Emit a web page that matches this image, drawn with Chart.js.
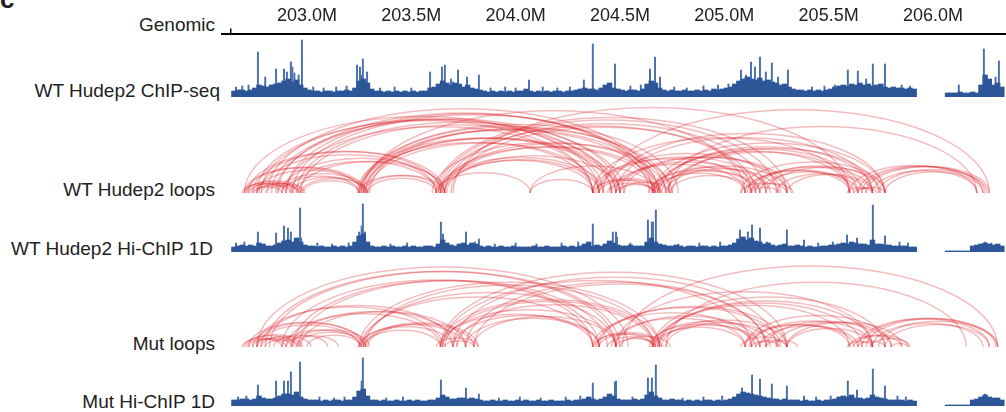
<!DOCTYPE html>
<html>
<head>
<meta charset="utf-8">
<script src="https://cdn.jsdelivr.net/npm/chart.js@4.4.1/dist/chart.umd.min.js"></script>
<style>
  body { margin: 0; background: #fff; }
  #wrap { position: relative; width: 1006px; height: 412px; overflow: hidden; font-family: "Liberation Sans", Arial, sans-serif; color: #222; }
  .lbl { position: absolute; font-size: 19px; line-height: 19px; white-space: nowrap; text-align: right; }
  .trk { position: absolute; }
  #panel { position: absolute; left: 0; top: -14px; font-size: 26px; line-height: 26px; font-weight: bold; }
</style>
</head>
<body>
<div id="wrap">
  <div id="panel">c</div>
  <div class="lbl" style="right:791px; top:15px;">Genomic</div>
  <div class="lbl" style="right:786px; top:81px;">WT Hudep2 ChIP-seq</div>
  <div class="lbl" style="right:791px; top:180px;">WT Hudep2 loops</div>
  <div class="lbl" style="right:793px; top:239px;">WT Hudep2 Hi-ChIP 1D</div>
  <div class="lbl" style="right:791px; top:334px;">Mut loops</div>
  <div class="lbl" style="right:791px; top:392px;">Mut Hi-ChIP 1D</div>

  <canvas class="trk" id="axis" width="785" height="70" style="left:221px; top:0px;"></canvas>
  <canvas class="trk" id="chip" width="775" height="59" style="left:231px; top:38px;"></canvas>
  <canvas class="trk" id="wtLoops" width="775" height="90" style="left:231px; top:103px;"></canvas>
  <canvas class="trk" id="wtHichip" width="775" height="51" style="left:231px; top:201px;"></canvas>
  <canvas class="trk" id="mutLoops" width="775" height="90" style="left:231px; top:257px;"></canvas>
  <canvas class="trk" id="mutHichip" width="775" height="50" style="left:231px; top:356px;"></canvas>
</div>
<script>
// genomic window (Mb)
const XMIN = 202.636;
const XMAX = 206.35;
const tickValues = [203.0, 203.5, 204.0, 204.5, 205.0, 205.5, 206.0];
const tickLabels = ['203.0M', '203.5M', '204.0M', '204.5M', '205.0M', '205.5M', '206.0M'];

// signal background, 20 kb bins starting at 202.64 Mb (null = no data)
const BIN_START = 202.64;
const BIN = 0.02;

const chipBins = [
  6,7,7,6,7,9,12,11,10,12,
  13,14,16,18,15,17,12,9,7,6,
  6,5,6,6,5,6,6,7,6,9,
  16,18,14,8,6,6,5,6,5,6,
  5,6,5,6,5,6,6,9,10,13,
  16,14,12,14,13,10,12,9,8,7,
  6,5,6,5,6,5,6,5,6,6,
  8,6,5,6,5,6,5,6,6,5,
  6,6,7,8,9,8,8,7,9,12,
  14,9,8,7,6,7,7,6,8,13,
  16,14,9,7,6,7,6,6,7,6,
  6,7,6,7,6,8,7,8,9,10,
  13,16,18,20,18,17,19,16,17,15,
  14,12,13,10,8,7,7,6,7,6,
  7,6,7,8,10,11,12,11,13,12,
  14,12,13,11,12,13,10,9,10,9,
  9,8,9,8,null,null,null,null,null,null,
  null,4,4,4,5,4,4,5,4,12,
  22,18,12,14,10
];
const chipPeaks = [
  [202.66,10],[202.69,11],[202.72,12],
  [202.765,45],[202.80,20],[202.852,28],[202.890,28],[202.904,25],[202.923,35],[202.930,30],
  [202.94,24],[202.96,22],[202.976,57],
  [203.03,10],[203.08,9],[203.14,10],[203.19,11],
  [203.240,32],[203.254,30],[203.26,22],[203.268,38],[203.288,25],
  [203.35,9],[203.42,10],[203.50,9],
  [203.590,25],[203.647,30],[203.661,32],[203.690,18],[203.70,15],[203.724,27],[203.767,20],[203.824,22],
  [203.88,9],[203.95,10],[204.00,9],
  [204.064,17],[204.13,10],[204.20,9],[204.26,10],
  [204.327,17],[204.370,53],[204.476,33],[204.55,11],[204.60,12],
  [204.644,28],[204.668,40],[204.692,20],
  [204.76,10],[204.82,9],[204.90,11],[204.97,12],[205.02,13],
  [205.080,27],[205.104,22],[205.128,35],[205.147,30],[205.171,40],[205.199,25],[205.228,34],
  [205.257,20],[205.305,27],
  [205.42,10],[205.48,11],[205.53,12],
  [205.592,27],[205.640,26],[205.680,18],[205.712,33],[205.770,33],[205.85,12],[205.89,11],
  [206.124,12],[206.244,48],[206.30,20],[206.316,36]
];

const wtHichipBins = [
  5,6,7,6,7,6,9,8,6,6,
  7,9,11,12,10,14,10,7,6,6,
  5,6,5,5,6,5,6,5,6,10,
  16,18,10,6,5,5,6,5,6,5,
  5,6,5,6,5,5,6,6,5,8,
  12,9,7,6,8,9,7,9,8,6,
  5,6,5,5,6,5,5,6,5,5,
  5,5,6,5,5,6,5,5,5,6,
  5,6,5,6,8,10,6,7,6,8,
  11,9,7,6,6,7,6,6,6,10,
  14,10,8,7,6,6,7,6,5,6,
  6,5,6,6,5,6,5,6,6,7,
  9,13,15,12,14,11,10,8,9,7,
  6,7,8,6,6,7,6,5,6,5,
  5,6,6,7,7,8,9,8,10,9,
  8,8,7,12,8,8,7,7,6,6,
  6,6,5,5,null,null,null,null,null,null,
  null,1,1,1,1,1,1,6,7,8,
  9,8,7,8,6
];
const wtHichipPeaks = [
  [202.66,9],[202.70,10],
  [202.765,20],[202.852,19],[202.890,26],[202.909,24],[202.923,20],[202.967,44],[202.972,14],
  [203.05,9],[203.12,8],[203.20,9],
  [203.250,20],[203.262,26],[203.268,48],[203.278,20],
  [203.40,8],[203.48,9],
  [203.642,30],[203.652,18],[203.762,20],[203.805,10],[203.824,13],
  [203.90,8],[204.00,9],[204.10,8],[204.22,9],[204.30,10],
  [204.370,28],[204.466,20],[204.481,20],[204.486,15],[204.55,9],
  [204.634,32],[204.653,30],[204.658,30],[204.672,42],
  [204.78,8],[204.88,9],[204.98,10],
  [205.075,22],[205.113,20],[205.133,27],[205.171,24],[205.204,10],[205.300,22],[205.382,12],
  [205.45,9],[205.52,10],
  [205.588,17],[205.636,14],[205.712,47],[205.770,16],[205.84,10],[205.88,9],
  [206.25,10],[206.28,9]
];

const mutHichipBins = [
  6,6,7,7,6,7,10,8,7,7,
  8,10,12,12,11,14,9,7,6,6,
  6,5,6,5,6,6,5,6,6,9,
  15,17,10,6,6,5,6,5,5,6,
  5,5,6,5,6,5,5,6,6,8,
  11,9,7,7,8,8,7,8,7,6,
  5,5,6,5,5,6,5,5,6,5,
  6,5,5,6,5,5,6,5,5,5,
  6,5,6,6,7,9,7,6,7,9,
  12,10,7,6,6,6,7,6,7,11,
  14,10,8,6,6,7,6,6,5,6,
  5,6,5,6,6,5,6,5,6,7,
  9,12,14,13,12,11,10,9,8,7,
  7,6,7,6,6,6,5,6,5,5,
  6,5,6,6,7,9,10,9,11,8,
  8,7,8,11,9,8,7,6,6,6,
  6,5,6,5,null,null,null,null,null,null,
  null,1,1,1,1,1,1,6,7,9,
  11,9,8,8,6
];
const mutHichipPeaks = [
  [202.67,9],[202.71,10],
  [202.765,21],[202.852,25],[202.890,25],[202.909,25],[202.923,34],[202.967,44],
  [203.06,9],[203.13,8],[203.18,9],
  [203.262,25],[203.268,48],
  [203.38,8],[203.46,9],
  [203.642,26],[203.762,18],[203.824,12],
  [203.92,8],[204.02,9],[204.12,8],[204.24,9],[204.31,10],
  [204.370,23],[204.476,24],[204.481,25],[204.56,9],
  [204.634,28],[204.653,28],[204.672,41],
  [204.80,8],[204.90,9],[204.99,10],
  [205.085,18],[205.133,31],[205.171,27],[205.228,22],[205.300,20],[205.382,10],
  [205.44,9],[205.51,10],
  [205.592,25],[205.636,16],[205.712,37],[205.770,20],[205.83,10],[205.87,9],
  [206.249,12]
];

// loops: [anchor1, anchor2] in Mb
const wtLoops = [
  [202.70,202.95],[202.72,202.93],[202.69,202.90],[202.76,202.97],[202.74,202.88],[202.80,202.96],
  [202.71,202.98],[202.73,202.96],[202.75,202.92],[202.78,202.99],
  [202.70,203.26],[202.76,203.27],[202.88,203.25],[202.93,203.28],[202.97,203.29],
  [202.71,203.28],[202.86,203.29],[202.98,203.25],
  [202.72,203.64],[202.88,203.65],[202.96,203.66],[202.77,203.62],[202.74,203.66],[202.92,203.62],
  [202.76,204.37],[202.90,204.37],[202.97,204.48],[202.70,204.40],[202.85,204.50],
  [202.78,204.42],[202.83,204.46],[202.95,204.52],[202.86,204.64],[202.90,204.66],
  [202.81,204.68],[202.93,204.67],
  [203.25,203.64],[203.27,203.66],[203.29,203.62],
  [203.25,204.37],[203.27,204.48],[203.28,204.50],[203.29,204.40],[203.24,204.46],
  [203.26,204.66],[203.28,204.69],[203.25,204.72],[203.30,204.74],[203.26,204.78],[203.27,205.10],
  [203.64,204.37],[203.66,204.40],[203.62,204.07],[203.63,204.42],[203.67,204.50],
  [203.64,204.66],[203.66,204.69],[203.65,204.75],[203.60,204.72],
  [203.64,205.13],[203.66,205.20],[203.62,205.30],[203.70,205.60],[203.69,205.15],[203.63,205.25],
  [204.07,204.37],[204.07,204.67],
  [204.37,204.66],[204.40,204.69],[204.48,204.67],[204.50,204.74],[204.38,204.70],[204.44,204.66],
  [204.37,205.13],[204.48,205.17],[204.50,205.30],[204.40,205.20],[204.46,205.10],[204.39,205.27],[204.52,205.32],
  [204.37,205.60],[204.48,205.71],[204.45,205.77],[204.42,206.27],
  [204.66,205.10],[204.68,205.17],[204.70,205.30],[204.74,205.13],[204.65,205.22],[204.64,205.15],[204.72,205.26],
  [204.67,205.60],[204.69,205.71],[204.66,205.77],[204.73,205.64],[204.68,205.66],[204.75,205.74],[204.73,206.21],
  [205.08,205.30],[205.13,205.26],[205.12,205.33],
  [205.10,205.60],[205.13,205.71],[205.17,205.64],[205.20,205.77],[205.30,205.71],[205.08,205.77],
  [205.11,205.62],[205.15,205.75],[205.25,205.68],
  [205.59,205.71],[205.64,205.77],[205.62,205.73],
  [205.60,206.21],[205.64,206.24],[205.71,206.21],[205.77,206.24],[205.68,206.27],[205.66,206.25],[205.74,206.26]
];
const mutLoops = [
  [202.70,202.95],[202.72,202.90],[202.76,202.97],[202.69,202.88],[202.80,202.96],
  [202.71,202.98],[202.74,202.93],[202.78,203.02],[202.84,203.10],[202.90,203.15],[203.00,203.26],
  [202.72,203.27],[202.88,203.26],[202.95,203.28],[202.76,203.25],[202.74,203.28],[202.92,203.30],
  [202.76,204.54],[202.80,204.48],[202.88,204.37],[202.93,204.40],[202.82,204.50],[202.96,204.44],
  [202.76,203.65],[202.90,203.64],[202.97,203.76],[202.78,203.70],[202.93,203.72],
  [203.27,203.64],[203.26,203.76],[203.28,203.82],[203.25,203.70],[203.29,203.80],
  [203.62,203.82],[203.66,203.80],
  [203.26,204.37],[203.27,204.48],[203.28,204.66],[203.25,204.69],
  [203.64,204.37],[203.65,204.48],[203.76,204.40],[203.66,204.67],[203.64,204.69],
  [203.70,204.40],[203.80,204.48],[203.72,204.66],
  [203.65,205.13],[203.76,205.20],[203.64,205.30],[203.80,205.20],[203.70,205.25],
  [204.37,204.66],[204.40,204.69],[204.48,204.67],[204.50,204.74],[204.38,204.70],[204.44,204.66],
  [204.37,205.13],[204.48,205.17],[204.40,205.30],[204.46,205.10],[204.39,205.27],
  [204.48,205.71],[204.51,206.31],
  [204.66,205.10],[204.68,205.17],[204.70,205.30],[204.65,205.22],[204.64,205.15],[204.72,205.26],
  [204.67,205.60],[204.69,205.71],[204.66,205.77],[204.68,205.66],
  [204.72,206.16],
  [205.08,205.30],[205.13,205.26],[205.15,205.30],[205.20,205.35],
  [205.10,205.60],[205.13,205.71],[205.17,205.64],[205.20,205.77],[205.30,205.71],[205.10,205.80],
  [205.12,205.62],[205.25,205.80],[205.30,205.85],
  [205.59,205.71],[205.64,205.77],[205.60,205.85],[205.62,205.88],[205.70,205.89],[205.80,205.88],
  [205.64,206.27],[205.71,206.24],[205.77,206.27],[205.68,206.31],[205.66,206.30],[205.74,206.31]
];

const FONT = '"Liberation Sans", Arial, sans-serif';
const BLUE = '#2c5698';
const BLUE_SPIKE = '#4a70b0';
const RED = 'rgba(220, 32, 40, 0.3)';
const PX_PER_MB = 775 / (XMAX - XMIN);

Chart.defaults.font.family = FONT;

function baseOptions(ymax) {
  return {
    responsive: false,
    devicePixelRatio: 1,
    animation: false,
    layout: { padding: 0 },
    plugins: { legend: { display: false }, tooltip: { enabled: false } },
    scales: {
      x: { type: 'linear', min: XMIN, max: XMAX, offset: false, display: false },
      y: { min: 0, max: ymax, display: false }
    }
  };
}

function signalTrack(id, bins, peaks, ymax) {
  const binData = bins.map((v, i) => ({ x: BIN_START + BIN * (i + 0.5), y: v }));
  const peakData = peaks.map(p => ({ x: p[0], y: p[1] }));
  new Chart(document.getElementById(id), {
    type: 'bar',
    data: {
      datasets: [
        { data: binData, backgroundColor: BLUE, grouped: false, barThickness: BIN * PX_PER_MB + 0.6 },
        { data: peakData, backgroundColor: BLUE_SPIKE, grouped: false, barThickness: 1.3 }
      ]
    },
    options: baseOptions(ymax)
  });
}

// draws each loop as a half ellipse between its anchors; apex height = span
const arcPlugin = {
  id: 'loopArcs',
  afterDatasetsDraw(chart) {
    const xs = chart.scales.x, ys = chart.scales.y;
    const ctx = chart.ctx;
    const base = ys.getPixelForValue(0);
    ctx.save();
    ctx.strokeStyle = RED;
    ctx.lineWidth = 1.5;
    chart.data.datasets[0].data.forEach(d => {
      const x1 = xs.getPixelForValue(d.s);
      const x2 = xs.getPixelForValue(d.e);
      const top = ys.getPixelForValue(d.y);
      ctx.beginPath();
      ctx.ellipse((x1 + x2) / 2, base, (x2 - x1) / 2, base - top, 0, Math.PI, 2 * Math.PI);
      ctx.stroke();
    });
    ctx.restore();
  }
};

function loopTrack(id, loops) {
  const data = loops.map(l => ({ x: (l[0] + l[1]) / 2, y: l[1] - l[0], s: l[0], e: l[1] }));
  new Chart(document.getElementById(id), {
    type: 'scatter',
    data: { datasets: [{ data: data, pointRadius: 0 }] },
    options: baseOptions(2.0),
    plugins: [arcPlugin]
  });
}

// genomic coordinate axis
const axisMin = XMIN - 10 / PX_PER_MB;
new Chart(document.getElementById('axis'), {
  type: 'scatter',
  data: { datasets: [] },
  options: {
    responsive: false,
    devicePixelRatio: 1,
    animation: false,
    layout: { padding: { top: 3, left: 0, right: 0, bottom: 0 } },
    plugins: { legend: { display: false }, tooltip: { enabled: false } },
    scales: {
      x: {
        type: 'linear', position: 'top', min: axisMin, max: XMAX,
        afterBuildTicks: axis => { axis.ticks = [XMIN].concat(tickValues).map(v => ({ value: v })); },
        grid: {
          drawOnChartArea: false, drawTicks: true, tickLength: 5, lineWidth: 1.5,
          color: c => (c.index === 0 ? '#000' : 'rgba(0,0,0,0)')
        },
        border: { display: true, color: '#000', width: 2 },
        ticks: {
          autoSkip: false, maxRotation: 0, padding: 2, color: '#222',
          font: { size: 18, family: FONT },
          callback: (v, i) => (i === 0 ? '' : tickLabels[i - 1])
        }
      },
      y: { display: false, min: 0, max: 1 }
    }
  }
});

signalTrack('chip', chipBins, chipPeaks, 59);
loopTrack('wtLoops', wtLoops);
signalTrack('wtHichip', wtHichipBins, wtHichipPeaks, 51);
loopTrack('mutLoops', mutLoops);
signalTrack('mutHichip', mutHichipBins, mutHichipPeaks, 50);
</script>
</body>
</html>
